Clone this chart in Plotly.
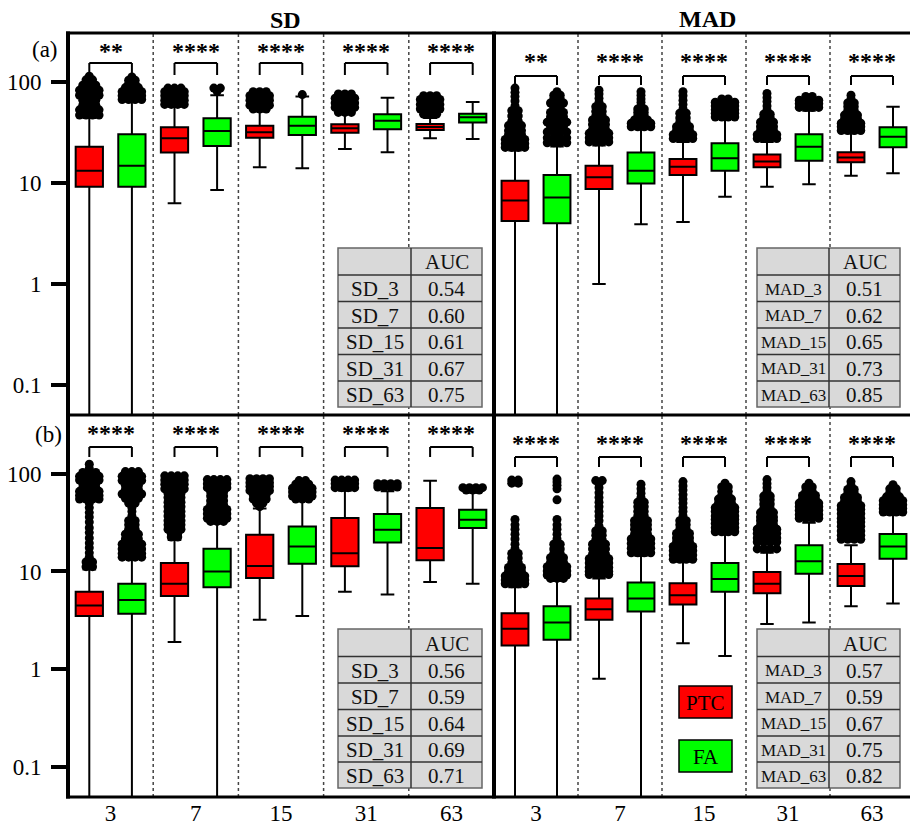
import numpy as np
import plotly.graph_objects as go

W, H = 910, 825
SERIF = "Liberation Serif"
groups = ["3", "7", "15", "31", "63"]

# ---------------- box statistics (lower whisker, q1, median, q3, upper whisker)
# panel (a) SD
aSD_PTC_lo = [0.001, 6.3, 14.3, 21.7, 27.7]
aSD_PTC_q1 = [9.2, 20.0, 28.1, 31.5, 33.5]
aSD_PTC_med = [13.2, 27.7, 31.8, 34.8, 35.8]
aSD_PTC_q3 = [22.9, 35.6, 36.9, 38.1, 38.4]
aSD_PTC_hi = [44, 57, 51, 48, 44]
aSD_FA_lo = [0.001, 8.5, 14.0, 20.1, 27.3]
aSD_FA_q1 = [9.2, 23.2, 29.9, 34.0, 39.8]
aSD_FA_med = [14.8, 32.7, 36.9, 41.4, 44.7]
aSD_FA_q3 = [30.3, 43.7, 45.4, 47.9, 48.5]
aSD_FA_hi = [64, 74, 72, 70, 63.4]
# panel (a) MAD
aMAD_PTC_lo = [0.001, 1.0, 4.1, 9.2, 11.8]
aMAD_PTC_q1 = [4.2, 8.7, 12.0, 14.3, 16.0]
aMAD_PTC_med = [6.7, 11.4, 14.5, 16.3, 17.9]
aMAD_PTC_q3 = [10.5, 14.8, 17.3, 19.2, 20.1]
aMAD_PTC_hi = [21, 23.5, 25.5, 25.5, 31]
aMAD_FA_lo = [0.001, 3.9, 7.3, 9.7, 12.5]
aMAD_FA_q1 = [4.0, 9.9, 13.2, 16.6, 22.6]
aMAD_FA_med = [7.2, 13.2, 17.6, 22.9, 28.7]
aMAD_FA_q3 = [12.0, 20.0, 24.7, 30.3, 35.6]
aMAD_FA_hi = [23, 34, 43, 52, 57]
# panel (b) SD
bSD_PTC_lo = [0.001, 1.9, 3.2, 6.2, 7.8]
bSD_PTC_q1 = [3.5, 5.6, 8.6, 11.3, 13.0]
bSD_PTC_med = [4.5, 7.5, 11.4, 15.4, 17.4]
bSD_PTC_q3 = [6.2, 12.2, 23.8, 35.2, 44.6]
bSD_PTC_hi = [10.5, 21, 44, 67, 84.8]
bSD_FA_lo = [0.001, 0.001, 3.5, 5.8, 7.5]
bSD_FA_q1 = [3.7, 6.9, 12.0, 19.8, 27.8]
bSD_FA_med = [5.1, 10.0, 18.0, 26.7, 33.8]
bSD_FA_q3 = [7.5, 17.1, 28.9, 38.7, 42.8]
bSD_FA_hi = [13.5, 31, 53, 66, 64]
# panel (b) MAD
bMAD_PTC_lo = [0.001, 0.8, 1.85, 2.9, 4.4]
bMAD_PTC_q1 = [1.75, 3.2, 4.6, 6.0, 7.1]
bMAD_PTC_med = [2.6, 4.1, 5.7, 7.5, 9.0]
bMAD_PTC_q3 = [3.75, 5.3, 7.6, 9.9, 11.9]
bMAD_PTC_hi = [6.9, 8.5, 12.5, 15.5, 18.5]
bMAD_FA_lo = [0.001, 0.001, 1.37, 3.0, 4.7]
bMAD_FA_q1 = [2.0, 3.9, 6.2, 9.5, 13.5]
bMAD_FA_med = [3.0, 5.3, 8.4, 12.7, 18.0]
bMAD_FA_q3 = [4.4, 7.7, 12.2, 18.5, 24.2]
bMAD_FA_hi = [8.0, 14.5, 24, 31.5, 38]

# ---------------- outlier profiles: (value, points side by side)
aSD_PTC_out = [
    [(114, 1), (105, 2), (93, 3), (83, 4), (74, 4), (66, 3), (59, 3), (53, 4), (47, 4)],
    [(87, 3), (80, 4), (73, 4), (66, 4), (60, 4)],
    [(80, 3), (73, 4), (66, 4), (59, 4), (54, 3)],
    [(76, 3), (69, 4), (62, 4), (56, 4), (50, 3)],
    [(73, 3), (67, 4), (60, 4), (54, 4), (48, 3)],
]
aSD_FA_out = [
    [(112, 1), (104, 2), (96, 2), (88, 3), (80, 4), (73, 4), (67, 4)],
    [(87, 2), (81, 1)],
    [(75, 1)],
    [],
    [],
]
aMAD_PTC_out = [
    [(87, 1), (79, 1), (72, 1), (65, 1), (58, 1), (52, 2), (46, 2), (41, 2), (37, 3), (33, 3), (30, 3), (27, 4), (24.5, 4), (22.5, 4)],
    [(83, 1), (76, 1), (69, 1), (63, 1), (57, 2), (51, 2), (46, 2), (42, 3), (38, 3), (34, 3), (31, 4), (28, 4), (25.5, 4)],
    [(80, 1), (73, 1), (66, 1), (60, 1), (54, 1), (49, 2), (44, 2), (40, 2), (36, 3), (33, 3), (30, 4), (27.5, 4)],
    [(77, 1), (70, 1), (64, 1), (58, 1), (53, 1), (48, 2), (44, 2), (40, 3), (36, 3), (33, 3), (30, 4), (27.5, 4)],
    [(74, 1), (68, 1), (62, 2), (57, 2), (52, 2), (47, 3), (43, 3), (39, 4), (36, 4), (33, 4)],
]
aMAD_FA_out = [
    [(80, 1), (74, 2), (68, 2), (62, 3), (56, 2), (50, 3), (45, 3), (40, 4), (36, 3), (32, 4), (28, 4), (25, 4)],
    [(80, 1), (74, 1), (68, 1), (63, 1), (58, 1), (54, 2), (50, 2), (46, 2), (42, 3), (39, 4), (36, 4)],
    [(68, 2), (63, 4), (58, 4), (53, 4), (49, 4), (45, 4)],
    [(72, 2), (66, 4), (61, 4), (56, 4)],
    [],
]
bSD_PTC_out = [
    [(125, 1), (113, 1), (103, 3), (94, 4), (86, 4), (79, 3), (72, 3), (66, 4), (60, 4), (55, 4), (50, 1), (45, 1),
     (40, 1), (36, 1), (32, 1), (28, 1), (25, 1), (22, 1), (19.5, 1), (17.5, 1), (15.5, 1), (14, 1), (12.5, 2), (11.2, 2)],
    [(95, 4), (86, 4), (78, 4), (70, 4), (63, 3), (57, 3), (51, 3), (46, 3), (41, 3), (37, 3), (33, 3), (30, 3), (27, 3),
     (24.5, 2), (22.5, 2)],
    [(89, 4), (81, 4), (74, 4), (67, 4), (61, 3), (55, 3), (50, 2), (46, 1)],
    [(86, 4), (79, 4), (72, 4)],
    [],
]
bSD_FA_out = [
    [(105, 3), (94, 4), (85, 4), (76, 3), (69, 3), (62, 4), (56, 3), (50, 2), (45, 1), (41, 1), (37, 1), (33, 2), (30, 2),
     (27, 2), (24, 3), (21.5, 3), (19, 4), (17, 4), (15.3, 4), (14, 4)],
    [(87, 4), (79, 4), (72, 4), (65, 3), (59, 3), (53, 3), (48, 3), (43, 4), (39, 4), (35, 4), (32.5, 3)],
    [(85, 2), (78, 3), (71, 4), (65, 4), (59, 4), (55, 3)],
    [(79, 4), (73, 4)],
    [(72, 4), (68, 3)],
]
bMAD_PTC_out = [
    [(86, 2), (80, 2), (34, 1), (30, 1), (27, 1), (24, 1), (21.5, 1), (19, 1), (17, 1), (15.3, 2), (13.7, 2), (12.3, 2),
     (11, 3), (10, 3), (9, 4), (8.2, 4), (7.5, 4)],
    [(85, 2), (79, 1), (72, 1), (64, 1), (57, 1), (51, 1), (46, 1), (41, 1), (37, 1), (33, 1), (29, 1), (26, 2), (23.5, 2),
     (21, 2), (19, 3), (17, 3), (15, 3), (13.5, 4), (12.2, 4), (11, 4), (10, 4), (9.3, 4)],
    [(83, 1), (75, 1), (68, 1), (61, 1), (55, 1), (50, 1), (45, 1), (41, 1), (37, 1), (33, 2), (30, 2), (27, 2), (24.5, 3),
     (22, 3), (20, 3), (18, 4), (16.3, 4), (14.7, 4), (13.3, 4)],
    [(87, 1), (79, 1), (72, 1), (65, 1), (59, 2), (54, 2), (49, 2), (44, 2), (40, 3), (36, 3), (33, 3), (30, 3), (27, 4),
     (24.5, 4), (22, 4), (20, 4), (17, 4)],
    [(83, 1), (76, 1), (69, 2), (63, 2), (57, 3), (52, 3), (47, 4), (43, 4), (39, 4), (35, 4), (32, 4), (29, 4), (26, 4),
     (23.5, 4), (21.3, 4)],
]
bMAD_FA_out = [
    [(88, 1), (82, 1), (76, 1), (70, 1), (54, 1), (34, 1), (30, 1), (27, 1), (24, 1), (21.5, 1), (19, 2), (17, 2), (15.3, 2),
     (13.8, 3), (12.4, 3), (11.2, 4), (10.1, 4), (9.2, 4), (8.5, 3)],
    [(78, 1), (70, 1), (63, 1), (57, 1), (51, 2), (46, 2), (41, 2), (37, 2), (33, 3), (30, 3), (27, 3), (24, 3), (21.5, 4),
     (19.3, 4), (17.3, 4), (15.5, 4)],
    [(80, 1), (73, 2), (66, 2), (60, 2), (55, 3), (50, 3), (45, 4), (41, 4), (37, 4), (34, 4), (31, 4), (28, 4), (25.5, 4)],
    [(80, 1), (73, 2), (66, 2), (60, 3), (55, 3), (50, 4), (46, 4), (42, 4), (38, 4), (35, 4)],
    [(77, 1), (70, 2), (64, 2), (58, 3), (53, 4), (48, 4), (44, 4), (40.5, 4)],
]

# ---------------- significance and AUC tables
sig_aSD = ["**", "****", "****", "****", "****"]
sig_aMAD = ["**", "****", "****", "****", "****"]
sig_bSD = ["****", "****", "****", "****", "****"]
sig_bMAD = ["****", "****", "****", "****", "****"]

sd_labels = ["SD_3", "SD_7", "SD_15", "SD_31", "SD_63"]
mad_labels = ["MAD_3", "MAD_7", "MAD_15", "MAD_31", "MAD_63"]
auc_aSD = ["0.54", "0.60", "0.61", "0.67", "0.75"]
auc_aMAD = ["0.51", "0.62", "0.65", "0.73", "0.85"]
auc_bSD = ["0.56", "0.59", "0.64", "0.69", "0.71"]
auc_bMAD = ["0.57", "0.59", "0.67", "0.75", "0.82"]

RED, GREEN = "#ff0000", "#00ff00"


def px(x):
    return x / W


def py(y):
    return 1 - y / H


def txt(x, y, text, size, xref="paper", color="black"):
    return dict(x=x, y=y, xref=xref, yref="paper", text=text, showarrow=False,
                xanchor="center", yanchor="middle", font=dict(family=SERIF, size=size, color=color))


panels = [
    dict(xa="x", ya="y", ppu=85.2,
         ptc=(aSD_PTC_lo, aSD_PTC_q1, aSD_PTC_med, aSD_PTC_q3, aSD_PTC_hi),
         fa=(aSD_FA_lo, aSD_FA_q1, aSD_FA_med, aSD_FA_q3, aSD_FA_hi),
         pout=aSD_PTC_out, fout=aSD_FA_out, sig=sig_aSD, br=(63, 75), st=45),
    dict(xa="x2", ya="y2", ppu=84.0,
         ptc=(aMAD_PTC_lo, aMAD_PTC_q1, aMAD_PTC_med, aMAD_PTC_q3, aMAD_PTC_hi),
         fa=(aMAD_FA_lo, aMAD_FA_q1, aMAD_FA_med, aMAD_FA_q3, aMAD_FA_hi),
         pout=aMAD_PTC_out, fout=aMAD_FA_out, sig=sig_aMAD, br=(76, 85), st=55),
    dict(xa="x3", ya="y3", ppu=85.2,
         ptc=(bSD_PTC_lo, bSD_PTC_q1, bSD_PTC_med, bSD_PTC_q3, bSD_PTC_hi),
         fa=(bSD_FA_lo, bSD_FA_q1, bSD_FA_med, bSD_FA_q3, bSD_FA_hi),
         pout=bSD_PTC_out, fout=bSD_FA_out, sig=sig_bSD, br=(447, 457), st=427),
    dict(xa="x4", ya="y4", ppu=84.0,
         ptc=(bMAD_PTC_lo, bMAD_PTC_q1, bMAD_PTC_med, bMAD_PTC_q3, bMAD_PTC_hi),
         fa=(bMAD_FA_lo, bMAD_FA_q1, bMAD_FA_med, bMAD_FA_q3, bMAD_FA_hi),
         pout=bMAD_PTC_out, fout=bMAD_FA_out, sig=sig_bMAD, br=(457, 467), st=437),
]

fig = go.Figure()
shapes = []
annotations = []
OFF = 0.25

for p in panels:
    for stats, col, sign in ((p["ptc"], RED, -1), (p["fa"], GREEN, 1)):
        lo, q1, med, q3, hi = stats
        fig.add_trace(go.Box(
            x=[i + sign * OFF for i in range(len(groups))],
            lowerfence=lo, q1=q1, median=med, q3=q3, upperfence=hi,
            width=0.32, whiskerwidth=0.5, fillcolor=col,
            line=dict(color="black", width=2), boxpoints=False,
            xaxis=p["xa"], yaxis=p["ya"], showlegend=False, hoverinfo="skip"))
    # outliers
    step = 6.5 / p["ppu"]
    xs, ys = [], []
    for outs, sign in ((p["pout"], -1), (p["fout"], 1)):
        for i, prof in enumerate(outs):
            for v, n in prof:
                for k in range(n):
                    xs.append(i + sign * OFF + (k - (n - 1) / 2) * step)
                    ys.append(v)
    fig.add_trace(go.Scatter(x=xs, y=ys, mode="markers", xaxis=p["xa"], yaxis=p["ya"],
                             marker=dict(color="black", size=9, line=dict(width=0)),
                             showlegend=False, hoverinfo="skip"))
    xr = p["xa"]
    yr = p["ya"]
    # dotted group separators
    for i in range(len(groups) - 1):
        shapes.append(dict(type="line", xref=xr, yref=yr + " domain", x0=i + 0.5, x1=i + 0.5, y0=0, y1=1,
                           line=dict(color="#444", width=1.5, dash="dot")))
    # brackets and stars
    yt, yb = p["br"]
    for i, s in enumerate(p["sig"]):
        x0, x1 = i - OFF, i + OFF
        shapes.append(dict(type="line", xref=xr, yref="paper", x0=x0, x1=x1, y0=py(yt), y1=py(yt),
                           line=dict(color="black", width=2)))
        shapes.append(dict(type="line", xref=xr, yref="paper", x0=x0, x1=x0, y0=py(yt), y1=py(yb),
                           line=dict(color="black", width=2)))
        shapes.append(dict(type="line", xref=xr, yref="paper", x0=x1, x1=x1, y0=py(yt), y1=py(yb),
                           line=dict(color="black", width=2)))
        annotations.append(txt(i, py(p["st"] + 6), "<b>" + s + "</b>", 24, xref=xr))


def add_table(xc, yr_, labels, values, lab_size):
    shapes.append(dict(type="rect", xref="paper", yref="paper", x0=px(xc[0]), x1=px(xc[2]),
                       y0=py(yr_[0]), y1=py(yr_[-1]), fillcolor="#d9d9d9", line=dict(color="#666", width=1.5)))
    for y in yr_[1:-1]:
        shapes.append(dict(type="line", xref="paper", yref="paper", x0=px(xc[0]), x1=px(xc[2]),
                           y0=py(y), y1=py(y), line=dict(color="#333", width=1.5)))
    shapes.append(dict(type="line", xref="paper", yref="paper", x0=px(xc[1]), x1=px(xc[1]),
                       y0=py(yr_[0]), y1=py(yr_[-1]), line=dict(color="#333", width=1.5)))
    annotations.append(txt(px((xc[1] + xc[2]) / 2), py((yr_[0] + yr_[1]) / 2 + 1), "AUC", 21, color="#111"))
    for r in range(len(labels)):
        yc = py((yr_[r + 1] + yr_[r + 2]) / 2 + 1)
        annotations.append(txt(px((xc[0] + xc[1]) / 2), yc, labels[r], lab_size, color="#111"))
        annotations.append(txt(px((xc[1] + xc[2]) / 2), yc, values[r], 21, color="#111"))


rows_a = [248, 275, 301.5, 328, 354.5, 381, 407]
rows_b = [629, 656.5, 683, 709.5, 736, 762, 788]
add_table([338, 411, 482], rows_a, sd_labels, auc_aSD, 21)
add_table([757, 829, 900], rows_a, mad_labels, auc_aMAD, 17)
add_table([338, 411, 482], rows_b, sd_labels, auc_bSD, 21)
add_table([757, 829, 900], rows_b, mad_labels, auc_bMAD, 17)

# legend boxes
for (y0, y1), col, label in (((686, 718), RED, "PTC"), ((740, 772), GREEN, "FA")):
    shapes.append(dict(type="rect", xref="paper", yref="paper", x0=px(679), x1=px(732), y0=py(y0), y1=py(y1),
                       fillcolor=col, line=dict(color="black", width=1.5)))
    annotations.append(txt(px(705.5), py((y0 + y1) / 2 + 1), label, 21))

# frame lines
for y in (33, 415, 797):
    shapes.append(dict(type="line", xref="paper", yref="paper", x0=px(66), x1=1, y0=py(y), y1=py(y),
                       line=dict(color="black", width=3)))
for x in (68, 494):
    shapes.append(dict(type="line", xref="paper", yref="paper", x0=px(x), x1=px(x), y0=py(31.5), y1=py(798.5),
                       line=dict(color="black", width=4)))

# titles and panel labels
annotations += [
    txt(px(285), py(20), "<b>SD</b>", 24),
    txt(px(707), py(19), "<b>MAD</b>", 24),
    txt(px(45), py(50), "(a)", 23),
    txt(px(48), py(435), "(b)", 23),
]

common_x = dict(showgrid=False, zeroline=False, showline=False, ticks="")
ylog_ticks = dict(type="log", tickvals=[0.1, 1, 10, 100], ticktext=["0.1", "1", "10", "100"],
                  ticks="outside", ticklen=16, tickwidth=3.5, tickcolor="black", showgrid=False,
                  ticklabelstandoff=5,
                  zeroline=False, showline=False, tickfont=dict(family=SERIF, size=23, color="black"))
ylog_plain = dict(type="log", showticklabels=False, ticks="", showgrid=False, zeroline=False, showline=False)
dom_top = [py(415), py(33)]
dom_bot = [py(797), py(415)]
dom_left = [px(68), px(494)]
dom_right = [px(494), 1.0]
xfont = dict(family=SERIF, size=23, color="black")

fig.update_layout(
    width=W, height=H, margin=dict(l=0, r=0, t=0, b=0),
    paper_bgcolor="white", plot_bgcolor="white", showlegend=False,
    xaxis=dict(domain=dom_left, anchor="y", range=[-0.5, 4.5], showticklabels=False, **common_x),
    yaxis=dict(domain=dom_top, anchor="x", range=[-1.297, 2.485], **ylog_ticks),
    xaxis2=dict(domain=dom_right, anchor="y2", range=[-0.5, -0.5 + 416 / 84.0], showticklabels=False, **common_x),
    yaxis2=dict(domain=dom_top, anchor="x2", range=[-1.297, 2.485], **ylog_plain),
    xaxis3=dict(domain=dom_left, anchor="y3", range=[-0.5, 4.5], tickvals=list(range(5)), ticktext=groups,
                tickfont=xfont, **common_x),
    yaxis3=dict(domain=dom_bot, anchor="x3", range=[-1.306, 2.60], **ylog_ticks),
    xaxis4=dict(domain=dom_right, anchor="y4", range=[-0.5, -0.5 + 416 / 84.0], tickvals=list(range(5)),
                ticktext=groups, tickfont=xfont, **common_x),
    yaxis4=dict(domain=dom_bot, anchor="x4", range=[-1.306, 2.60], **ylog_plain),
    shapes=shapes, annotations=annotations,
)

fig.write_html("out.html")
